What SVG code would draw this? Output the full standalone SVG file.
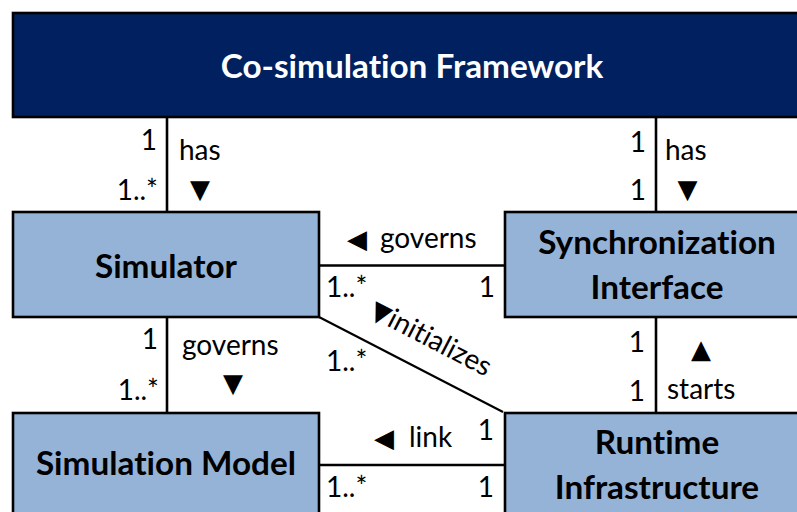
<svg xmlns="http://www.w3.org/2000/svg" width="797" height="512" viewBox="0 0 797 512">
  <style>
    text { font-variant-ligatures: none; }
    .box { fill: #95B3D7; stroke: #000; stroke-width: 2.6; }
    .frame { fill: #002060; stroke: #000; stroke-width: 2.6; }
    .name { font-family: Lato, "Liberation Sans", sans-serif; font-weight: bold; font-size: 33.3px; fill: #000; text-anchor: middle; }
    .title { font-family: Lato, "Liberation Sans", sans-serif; font-weight: bold; font-size: 33.3px; fill: #fff; text-anchor: middle; }
    .lbl { font-family: Lato, "Liberation Sans", sans-serif; font-size: 28px; fill: #000; }
    .end { text-anchor: end; }
    .tri { font-family: "DejaVu Sans", sans-serif; font-size: 26px; }
    .line { stroke: #000; stroke-width: 2.6; fill: none; }
  </style>

  <g id="framework">
    <rect class="frame" x="13" y="13" width="800" height="104"/>
    <text class="title" x="412" y="78">Co-simulation Framework</text>
  </g>

  <g id="simulator">
    <rect class="box" x="13" y="212" width="306" height="105"/>
    <text class="name" x="166" y="278">Simulator</text>
  </g>

  <g id="sync-interface">
    <rect class="box" x="505" y="212" width="305" height="105"/>
    <text class="name" x="657" y="254">Synchronization</text>
    <text class="name" x="657" y="299">Interface</text>
  </g>

  <g id="simulation-model">
    <rect class="box" x="13" y="413" width="306" height="110"/>
    <text class="name" x="166" y="475">Simulation Model</text>
  </g>

  <g id="runtime-infrastructure">
    <rect class="box" x="505" y="413" width="305" height="110"/>
    <text class="name" x="657" y="454">Runtime</text>
    <text class="name" x="657" y="499">Infrastructure</text>
  </g>

  <g id="connectors">
    <line class="line" x1="167" y1="117" x2="167" y2="212"/>
    <line class="line" x1="656" y1="117" x2="656" y2="212"/>
    <line class="line" x1="319" y1="265.5" x2="505" y2="265.5"/>
    <line class="line" x1="167" y1="317" x2="167" y2="413"/>
    <line class="line" x1="319" y1="317" x2="503" y2="412" style="stroke-width:2.2"/>
    <line class="line" x1="656" y1="317" x2="656" y2="413"/>
    <line class="line" x1="319" y1="465" x2="505" y2="465"/>

    <!-- framework has simulators -->
    <text class="lbl end" x="157" y="150">1</text>
    <text class="lbl end" x="158" y="200">1..*</text>
    <text class="lbl" x="179" y="160">has</text>
    <text class="lbl tri" x="200" y="198" text-anchor="middle">▼</text>

    <!-- framework has sync interface -->
    <text class="lbl end" x="646" y="152">1</text>
    <text class="lbl end" x="646" y="200">1</text>
    <text class="lbl" x="665" y="160">has</text>
    <text class="lbl tri" x="687.5" y="198" text-anchor="middle">▼</text>

    <!-- sync interface governs simulators -->
    <text class="lbl" y="248"><tspan class="tri" x="347">◀</tspan> <tspan x="380">governs</tspan></text>
    <text class="lbl" x="326" y="297">1..*</text>
    <text class="lbl end" x="495" y="297">1</text>

    <!-- simulator governs models -->
    <text class="lbl end" x="158" y="349">1</text>
    <text class="lbl end" x="159" y="400">1..*</text>
    <text class="lbl" x="182" y="355">governs</text>
    <text class="lbl tri" x="233" y="392" text-anchor="middle">▼</text>

    <!-- runtime initializes simulators -->
    <text class="lbl" transform="translate(368 316) rotate(27.4)"><tspan class="tri">▼</tspan>initializes</text>
    <text class="lbl" x="326" y="371">1..*</text>

    <!-- runtime starts sync interface -->
    <text class="lbl end" x="645" y="352">1</text>
    <text class="lbl end" x="645" y="401">1</text>
    <text class="lbl tri" x="701" y="358" text-anchor="middle">▲</text>
    <text class="lbl" x="667" y="399">starts</text>

    <!-- model link runtime -->
    <text class="lbl" y="447"><tspan class="tri" x="374">◀</tspan> <tspan x="409">link</tspan></text>
    <text class="lbl end" x="494" y="440">1</text>
    <text class="lbl" x="326" y="497">1..*</text>
    <text class="lbl end" x="494" y="497">1</text>
  </g>
</svg>
